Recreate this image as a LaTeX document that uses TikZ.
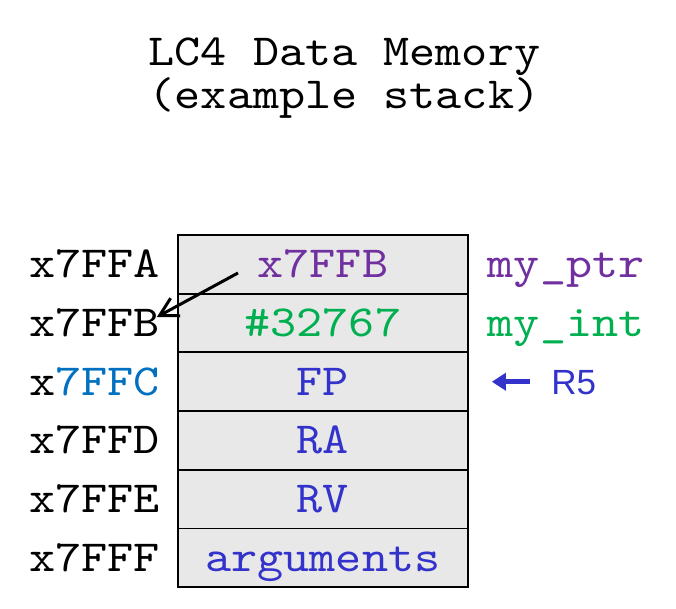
\documentclass[tikz,border=0pt]{standalone}
\usepackage{fontspec}
\setmainfont{Liberation Sans}
\setmonofont{lmmono10-regular}[Extension=.otf,FakeStretch=1.12]
\usepackage{xcolor}
\usetikzlibrary{positioning,arrows.meta}

\definecolor{ptrpurple}{HTML}{7030A0}
\definecolor{intgreen}{HTML}{00B050}
\definecolor{regblue}{HTML}{3333CC}
\definecolor{addrblue}{HTML}{0070C0}
\definecolor{cellgray}{HTML}{E8E8E8}

\newcommand{\monotext}{\ttfamily\fontsize{22.2pt}{26pt}\selectfont}
\newcommand{\regtext}{\rmfamily\fontsize{17.5pt}{21pt}\selectfont}

\tikzset{
	memcell/.style={draw,line width=0.9pt,fill=cellgray,minimum width=145pt,minimum height=29.35pt,inner sep=0pt,outer sep=0pt,text height=13.5pt,text depth=0pt,font=\monotext},
	memaddr/.style={inner sep=0pt,outer sep=0pt,text height=13.5pt,text depth=0pt,font=\monotext},
	ptrarrow/.style={line width=1.5pt,-{Straight Barb[length=9pt,width=10pt]}},
	regarrow/.style={line width=2.4pt,regblue,-{Triangle[length=7pt,width=8.5pt]}}
}

\begin{document}
\begin{tikzpicture}[x=0.5pt,y=-0.5pt]
		\useasboundingbox (0,0) rectangle (676,609);
		\node[font=\monotext,anchor=base] (titleA) at (344.5,66) {LC4 Data Memory};
		\node[font=\monotext,anchor=base] (titleB) at (344.5,109) {(example stack)};

		\node[memcell,text=ptrpurple] (cellA) at (322.85,264.35) {x7FFB};
		\node[memcell,text=intgreen,below=0pt of cellA] (cellB) {\#32767};
		\node[memcell,text=regblue,below=0pt of cellB] (cellC) {FP};
		\node[memcell,text=regblue,below=0pt of cellC] (cellD) {RA};
		\node[memcell,text=regblue,below=0pt of cellD] (cellE) {RV};
		\node[memcell,text=regblue,below=0pt of cellE] (cellF) {arguments};

		\node[memaddr,left=9pt of cellA] (addrA) {x7FFA};
		\node[memaddr,left=9pt of cellB] (addrB) {x7FFB};
		\node[memaddr,left=9pt of cellC] (addrC) {x\textcolor{addrblue}{7FFC}};
		\node[memaddr,left=9pt of cellD] (addrD) {x7FFD};
		\node[memaddr,left=9pt of cellE] (addrE) {x7FFE};
		\node[memaddr,left=9pt of cellF] (addrF) {x7FFF};

		\node[memaddr,text=ptrpurple,right=10pt of cellA] (nameA) {my\_ptr};
		\node[memaddr,text=intgreen,right=10pt of cellB] (nameB) {my\_int};
		\node[inner sep=0pt,text height=12.5pt,text depth=0pt,font=\regtext,text=regblue,right=41.5pt of cellC] (rfive) {R5};

		\coordinate (ptrstart) at (238,273);
		\coordinate (rtip) at ([xshift=-29.5pt]rfive.west);
		\draw[ptrarrow] (ptrstart) -- ([xshift=-1.5pt,yshift=3pt]addrB.east);
		\draw[regarrow] ([xshift=-10.5pt]rfive.west) -- (rtip);
\end{tikzpicture}
\end{document}
